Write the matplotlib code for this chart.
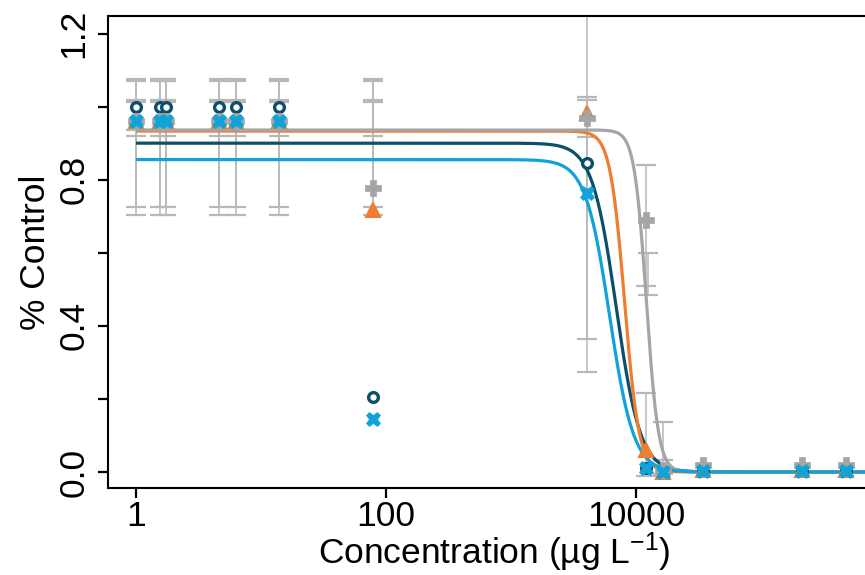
import numpy as np
import matplotlib
matplotlib.use("Agg")
import matplotlib.pyplot as plt

plt.rcParams['font.family'] = ['Liberation Sans', 'DejaVu Sans']
plt.rcParams['mathtext.fontset'] = 'custom'
plt.rcParams['mathtext.rm'] = 'Liberation Sans'
plt.rcParams['mathtext.it'] = 'Liberation Sans:italic'
plt.rcParams['mathtext.bf'] = 'Liberation Sans:bold'

# ---------------- data ----------------
doses = [1, 1.56, 1.74, 4.6, 6.3, 13.9, 78.7, 4055, 12000, 16400, 34400, 213000, 479000]

teal_vals   = [1.0, 1.0, 1.0, 1.0, 1.0, 1.0, 0.205, 0.846, 0.01, 0.0, 0.003, 0.003, 0.003]
orange_vals = [0.96, 0.96, 0.96, 0.96, 0.96, 0.96, 0.717, 0.983, 0.06, 0.0, 0.005, 0.005, 0.005]
gray_vals   = [0.96, 0.96, 0.96, 0.96, 0.96, 0.96, 0.777, 0.969, 0.69, 0.005, 0.02, 0.02, 0.02]
blue_vals   = [0.96, 0.96, 0.96, 0.96, 0.96, 0.96, 0.145, 0.764, 0.01, 0.0, 0.003, 0.003, 0.003]

# error bars (drawn in gray): dose, lower, upper
err_doses = [1, 1.56, 1.74, 4.6, 6.3, 13.9, 78.7,
             1, 1.56, 1.74, 4.6, 6.3, 13.9, 78.7,
             1, 1.56, 1.74, 4.6, 6.3, 13.9, 78.7,
             1, 1.56, 1.74, 4.6, 6.3, 13.9, 78.7,
             4055, 4055, 4055,
             12000, 12400, 12000,
             16400, 16400]
err_lower = [0.92] * 7 + [0.935] * 7 + [0.725] * 7 + [0.703] * 7 + \
            [0.917, 0.364, 0.274] + [0.51, 0.485, -0.01] + [-0.005, 0.033]
err_upper = [1.076] * 7 + [1.069] * 7 + [1.018] * 7 + [1.013] * 7 + \
            [1.30, 1.027, 1.018] + [0.84, 0.60, 0.216] + [0.137, 0.033]

# fitted log-logistic curves: upper limit d, ED50 e, slope b
curve_names = ['teal', 'orange', 'gray', 'blue']
curve_d = [0.90, 0.933, 0.936, 0.855]
curve_e = [6950, 8100, 12100, 6150]
curve_b = [4.5, 7.5, 9.0, 4.5]

colors = {'teal': '#0d4f69', 'orange': '#ee7d31', 'gray': '#a5a5a5', 'blue': '#11a3d8'}

# ---------------- figure ----------------
W, H = 865, 575
fig = plt.figure(figsize=(W / 100, H / 100), dpi=100)
left_px, right_px, top_px, bot_px = 108, 880, 16, 488
ax = fig.add_axes([left_px / W, 1 - bot_px / H, (right_px - left_px) / W, (bot_px - top_px) / H])

ax.set_xscale('log')
ax.set_xlim(10 ** -0.224, 10 ** 5.952)
ax.set_ylim(-0.0438, 1.248)

# error bars
lo = np.array(err_lower)
hi = np.array(err_upper)
mid = (lo + hi) / 2
ax.errorbar(err_doses, mid, yerr=[mid - lo, hi - mid], fmt='none',
            ecolor='#b8b8b8', elinewidth=1.1, capsize=7, capthick=1.6, zorder=1)

# curves
xs = np.logspace(0, 6, 800)
for name, d, e, b in zip(curve_names, curve_d, curve_e, curve_b):
    ys = d / (1 + np.exp(b * (np.log(xs) - np.log(e))))
    ax.plot(xs, ys, color=colors[name], lw=2.3, zorder=2, solid_capstyle='butt')

# points
ax.plot(doses, teal_vals, ls='none', marker='o', ms=7, mfc='white',
        mec=colors['teal'], mew=2.4, zorder=3)
ax.plot(doses, orange_vals, ls='none', marker='^', ms=10.5, mfc=colors['orange'],
        mec=colors['orange'], mew=1.5, zorder=4)
ax.plot(doses, gray_vals, ls='none', marker='P', ms=11, mfc=colors['gray'],
        mec=colors['gray'], mew=0.5, zorder=5)
ax.plot(doses, blue_vals, ls='none', marker='X', ms=10.5, mfc=colors['blue'],
        mec=colors['blue'], mew=0.5, zorder=6)

# axes styling
for s in ['left', 'bottom', 'top']:
    ax.spines[s].set_linewidth(1.5)
    ax.spines[s].set_color('black')
ax.spines['right'].set_visible(False)

ax.set_xticks([1, 100, 10000])
ax.set_xticklabels(['1', '100', '10000'])
ax.xaxis.set_minor_locator(matplotlib.ticker.NullLocator())
ax.set_yticks([0, 0.2, 0.4, 0.6, 0.8, 1.0, 1.2])
ax.set_yticklabels(['0.0', '', '0.4', '', '0.8', '', '1.2'])
ax.tick_params(axis='both', direction='out', length=7.5, width=1.6, labelsize=25.5)
ax.tick_params(axis='x', pad=1)
ax.tick_params(axis='y', pad=5)
for lab in ax.get_yticklabels():
    lab.set_rotation(90)
    lab.set_va('center')

ax.set_xlabel(r'Concentration (µg L$^{-1}$)', fontsize=25.5, labelpad=-2)
ax.set_ylabel('% Control', fontsize=25.5, labelpad=4)

fig.savefig('out.png', dpi=100)
